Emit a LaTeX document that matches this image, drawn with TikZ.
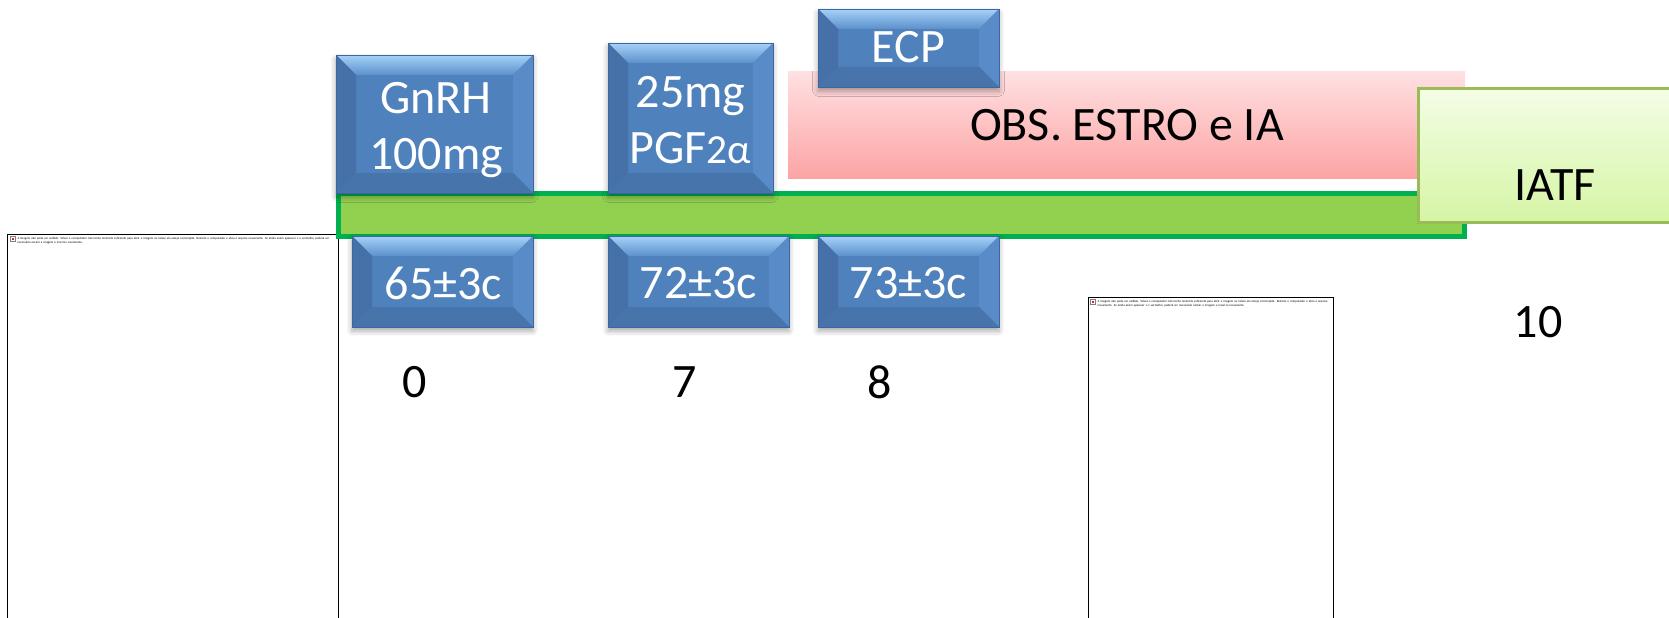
\documentclass[tikz,border=0pt]{standalone}
\usepackage{fontspec}
\setmainfont{Carlito}
\usetikzlibrary{shadows.blur}

\definecolor{bevfront}{RGB}{79,129,189}
\definecolor{bevtop}{RGB}{165,210,248}
\definecolor{bevtopin}{RGB}{92,144,204}
\definecolor{bevleft}{RGB}{70,112,168}
\definecolor{bevright}{RGB}{88,139,199}
\definecolor{bevbottom}{RGB}{72,116,172}
\definecolor{bevedge}{RGB}{62,102,158}
\definecolor{barfill}{RGB}{146,208,80}
\definecolor{barline}{RGB}{0,176,80}
\definecolor{pinktop}{RGB}{255,224,226}
\definecolor{pinkbot}{RGB}{252,164,164}
\definecolor{iatfline}{RGB}{155,187,89}
\definecolor{iatftop}{RGB}{243,253,230}
\definecolor{iatfbot}{RGB}{214,245,165}
\definecolor{brokenx}{RGB}{220,40,40}

\tikzset{every picture/.style={line width=0.75pt},
  boxtext/.style={text=white, align=center, inner sep=0, font=\fontsize{36}{42}\selectfont},
  daytext/.style={inner sep=0, font=\fontsize{36}{42}\selectfont},
  holder/.style={draw=black, line width=0.75pt, fill=white},
  holdertext/.style={anchor=north west, inner sep=0, align=left, font=\fontsize{2.3}{2.75}\selectfont}
}

\newcommand{\bevw}{20}
% bevelled button from (#1,#2) to (#3,#4)
\newcommand{\bevelbox}[4]{%
  \fill[bevfront, blur shadow={shadow xshift=0pt, shadow yshift=-3pt, shadow blur radius=4pt, shadow opacity=35}] (#1,#2) rectangle (#3,#4);
  \shade[top color=bevtop, bottom color=bevtopin] (#1,#2) -- (#3,#2) -- ({#3-\bevw},{#2+\bevw}) -- ({#1+\bevw},{#2+\bevw}) -- cycle;
  \fill[bevleft] (#1,#2) -- ({#1+\bevw},{#2+\bevw}) -- ({#1+\bevw},{#4-\bevw}) -- (#1,#4) -- cycle;
  \fill[bevright] (#3,#2) -- ({#3-\bevw},{#2+\bevw}) -- ({#3-\bevw},{#4-\bevw}) -- (#3,#4) -- cycle;
  \fill[bevbottom] (#1,#4) -- ({#1+\bevw},{#4-\bevw}) -- ({#3-\bevw},{#4-\bevw}) -- (#3,#4) -- cycle;
  \draw[bevedge, line width=0.6] (#1,#2) rectangle (#3,#4);
}

\newcommand{\brokenmsg}{A imagem não pode ser exibida. Talvez o computador não tenha memória suficiente para abrir a imagem ou talvez ela esteja corrompida. Reinicie o computador e abra o arquivo novamente. Se ainda assim aparecer o x vermelho, poderá ser necessário excluir a imagem e inseri-la novamente.}

\begin{document}
\begin{tikzpicture}[x=0.75pt,y=0.75pt,yscale=-1]
	\clip (0,0) rectangle (1669,617);

	%Shape: Image frames
	\draw[holder] (7.5,234.5) rectangle (338,640) ;
	\draw[gray, fill=white, line width=0.4] (10.5,236.5) rectangle (15.5,241.5) ;
	\fill[brokenx] (12,238) rectangle (14,240) ;
	\draw (17,236.8) node [holdertext, text width=240pt] (msgleft) {\brokenmsg};
	\draw[holder] (1088.5,297.5) rectangle (1333,640) ;
	\draw[gray, fill=white, line width=0.4] (1090,299.5) rectangle (1095,304.5) ;
	\fill[brokenx] (1091.5,301) rectangle (1093.5,303) ;
	\draw (1097,299.8) node [holdertext, text width=177pt] (msgright) {\brokenmsg};

	%Shape: Rectangle
	\shade[top color=pinktop, bottom color=pinkbot] (788,72) rectangle (1465,178) ;
	%Shape: Bar
	\draw[barline, fill=barfill, line width=3.75] (338.5,193.5) rectangle (1464.5,236.5) ;

	%Shape: Bevels
	\bevelbox{336}{55}{533}{193}
	\bevelbox{608}{43}{773}{193}
	\bevelbox{818}{9}{999}{87}
	\bevelbox{352}{236}{533}{327}
	\bevelbox{608}{236}{789}{327}
	\bevelbox{818}{236}{999}{327}

	%Shape: Rectangle
	\draw[iatfline, line width=2.25, top color=iatftop, bottom color=iatfbot] (1418.5,88) rectangle (1700,222) ;

	% Text Node
	\draw (436,130) node [boxtext] (gnrh) {GnRH\\100mg};
	% Text Node
	\draw (690.5,120) node [boxtext] (pgf) {25mg\\PGF{\fontsize{31}{36}\selectfont 2α}};
	% Text Node
	\draw (908.5,47.5) node [boxtext] (ecp) {ECP};
	% Text Node
	\draw (1127,125) node [daytext] (obs) {OBS. ESTRO e IA};
	% Text Node
	\draw (1555,185) node [daytext] (iatf) {IATF};
	% Text Node
	\draw (443.5,283) node [boxtext] (cc65) {65±3c};
	\draw (698.5,283) node [boxtext] (cc72) {72±3c};
	\draw (908.5,283) node [boxtext] (cc73) {73±3c};
	% Text Node
	\draw (414.5,382) node [daytext] (d0) {0};
	\draw (685,382) node [daytext] (d7) {7};
	\draw (880,382) node [daytext] (d8) {8};
	\draw (1538,322) node [daytext] (d10) {10};

\end{tikzpicture}
\end{document}
